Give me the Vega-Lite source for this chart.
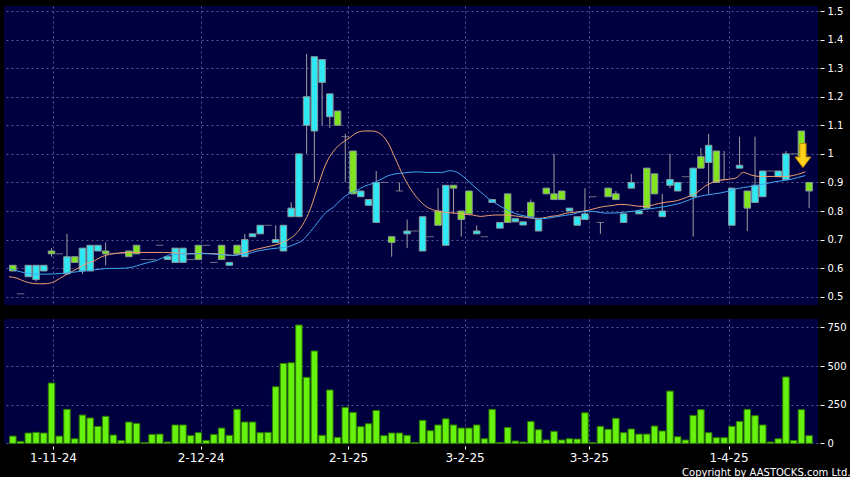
{
  "$schema": "https://vega.github.io/schema/vega-lite/v6.json",
  "background": "#000000",
  "padding": {"left": 4, "top": 6, "right": 0, "bottom": 0},
  "spacing": 14,
  "config": {
    "view": {"fill": "#000040", "stroke": null},
    "font": "DejaVu Sans",
    "axis": {"gridColor": "#6e6ea8", "gridDash": [2, 3], "gridWidth": 1, "gridOpacity": 0.8, "domain": false, "labelColor": "#ffffff", "tickColor": "#ffffff", "labelFont": "DejaVu Sans", "labelOverlap": false}
  },
  "data": {"values": [
    {"i":0,"o":0.61,"c":0.59,"h":0.61,"l":0.59,"t":"d","v":47,"a":0.570,"b":0.599},
    {"i":1,"o":0.51,"c":0.51,"h":0.51,"l":0.51,"t":"f","v":13,"a":0.565,"b":0.591},
    {"i":2,"o":0.57,"c":0.61,"h":0.61,"l":0.57,"t":"u","v":67,"a":0.554,"b":0.584},
    {"i":3,"o":0.56,"c":0.61,"h":0.61,"l":0.553,"t":"u","v":71,"a":0.547,"b":0.580},
    {"i":4,"o":0.59,"c":0.61,"h":0.61,"l":0.59,"t":"u","v":67,"a":0.545,"b":0.579},
    {"i":5,"o":0.66,"c":0.65,"h":0.67,"l":0.64,"t":"d","v":390,"a":0.546,"b":0.579},
    {"i":6,"o":0.65,"c":0.65,"h":0.65,"l":0.65,"t":"f","v":47,"a":0.555,"b":0.580},
    {"i":7,"o":0.58,"c":0.64,"h":0.72,"l":0.58,"t":"u","v":220,"a":0.571,"b":0.582},
    {"i":8,"o":0.64,"c":0.62,"h":0.64,"l":0.62,"t":"d","v":30,"a":0.586,"b":0.585},
    {"i":9,"o":0.59,"c":0.67,"h":0.67,"l":0.58,"t":"u","v":183,"a":0.601,"b":0.588},
    {"i":10,"o":0.59,"c":0.68,"h":0.68,"l":0.59,"t":"u","v":164,"a":0.615,"b":0.591},
    {"i":11,"o":0.66,"c":0.68,"h":0.68,"l":0.66,"t":"u","v":110,"a":0.625,"b":0.594},
    {"i":12,"o":0.66,"c":0.65,"h":0.69,"l":0.61,"t":"d","v":175,"a":0.640,"b":0.597},
    {"i":13,"o":0.652,"c":0.652,"h":0.652,"l":0.652,"t":"f","v":54,"a":0.648,"b":0.599},
    {"i":14,"o":0.652,"c":0.652,"h":0.652,"l":0.652,"t":"f","v":19,"a":0.652,"b":0.599},
    {"i":15,"o":0.66,"c":0.64,"h":0.66,"l":0.64,"t":"d","v":138,"a":0.655,"b":0.600},
    {"i":16,"o":0.68,"c":0.65,"h":0.68,"l":0.65,"t":"d","v":129,"a":0.655,"b":0.604},
    {"i":17,"o":0.63,"c":0.63,"h":0.63,"l":0.63,"t":"f","v":6,"a":0.655,"b":0.612},
    {"i":18,"o":0.63,"c":0.63,"h":0.63,"l":0.63,"t":"f","v":58,"a":0.655,"b":0.620},
    {"i":19,"o":0.68,"c":0.68,"h":0.68,"l":0.68,"t":"f","v":60,"a":0.655,"b":0.626},
    {"i":20,"o":0.63,"c":0.64,"h":0.64,"l":0.63,"t":"u","v":9,"a":0.655,"b":0.638},
    {"i":21,"o":0.62,"c":0.67,"h":0.67,"l":0.62,"t":"u","v":119,"a":0.654,"b":0.648},
    {"i":22,"o":0.62,"c":0.67,"h":0.67,"l":0.62,"t":"u","v":119,"a":0.652,"b":0.649},
    {"i":23,"o":0.63,"c":0.63,"h":0.63,"l":0.63,"t":"f","v":50,"a":0.650,"b":0.650},
    {"i":24,"o":0.68,"c":0.63,"h":0.68,"l":0.63,"t":"d","v":69,"a":0.651,"b":0.650},
    {"i":25,"o":0.68,"c":0.68,"h":0.68,"l":0.68,"t":"f","v":19,"a":0.652,"b":0.651},
    {"i":26,"o":0.62,"c":0.62,"h":0.62,"l":0.62,"t":"f","v":58,"a":0.651,"b":0.650},
    {"i":27,"o":0.68,"c":0.63,"h":0.68,"l":0.63,"t":"d","v":99,"a":0.650,"b":0.648},
    {"i":28,"o":0.61,"c":0.62,"h":0.62,"l":0.61,"t":"u","v":52,"a":0.647,"b":0.646},
    {"i":29,"o":0.68,"c":0.65,"h":0.68,"l":0.65,"t":"d","v":220,"a":0.645,"b":0.644},
    {"i":30,"o":0.64,"c":0.70,"h":0.72,"l":0.64,"t":"u","v":138,"a":0.650,"b":0.648},
    {"i":31,"o":0.71,"c":0.72,"h":0.72,"l":0.71,"t":"u","v":138,"a":0.658,"b":0.651},
    {"i":32,"o":0.72,"c":0.75,"h":0.75,"l":0.72,"t":"u","v":69,"a":0.666,"b":0.659},
    {"i":33,"o":0.75,"c":0.75,"h":0.75,"l":0.75,"t":"f","v":71,"a":0.672,"b":0.664},
    {"i":34,"o":0.69,"c":0.70,"h":0.75,"l":0.69,"t":"u","v":366,"a":0.678,"b":0.668},
    {"i":35,"o":0.66,"c":0.75,"h":0.75,"l":0.66,"t":"u","v":517,"a":0.686,"b":0.671},
    {"i":36,"o":0.78,"c":0.81,"h":0.83,"l":0.78,"t":"u","v":521,"a":0.698,"b":0.674},
    {"i":37,"o":0.78,"c":1.00,"h":1.00,"l":0.78,"t":"u","v":765,"a":0.717,"b":0.684},
    {"i":38,"o":1.10,"c":1.20,"h":1.35,"l":1.00,"t":"u","v":427,"a":0.752,"b":0.698},
    {"i":39,"o":1.08,"c":1.34,"h":1.34,"l":0.90,"t":"u","v":597,"a":0.808,"b":0.728},
    {"i":40,"o":1.25,"c":1.33,"h":1.33,"l":1.10,"t":"u","v":52,"a":0.890,"b":0.762},
    {"i":41,"o":1.13,"c":1.21,"h":1.21,"l":1.09,"t":"u","v":345,"a":0.965,"b":0.795},
    {"i":42,"o":1.15,"c":1.10,"h":1.15,"l":1.10,"t":"d","v":39,"a":1.010,"b":0.814},
    {"i":43,"o":1.06,"c":1.06,"h":1.07,"l":0.90,"t":"f","v":233,"a":1.037,"b":0.841},
    {"i":44,"o":1.01,"c":0.86,"h":1.01,"l":0.86,"t":"d","v":200,"a":1.055,"b":0.861},
    {"i":45,"o":0.85,"c":0.87,"h":0.87,"l":0.85,"t":"u","v":108,"a":1.074,"b":0.872},
    {"i":46,"o":0.82,"c":0.84,"h":0.84,"l":0.82,"t":"u","v":127,"a":1.080,"b":0.887},
    {"i":47,"o":0.76,"c":0.90,"h":0.94,"l":0.76,"t":"u","v":213,"a":1.080,"b":0.896},
    {"i":48,"o":0.90,"c":0.90,"h":0.90,"l":0.90,"t":"f","v":50,"a":1.071,"b":0.909},
    {"i":49,"o":0.71,"c":0.69,"h":0.71,"l":0.64,"t":"d","v":67,"a":1.040,"b":0.923},
    {"i":50,"o":0.87,"c":0.87,"h":0.90,"l":0.87,"t":"f","v":67,"a":0.982,"b":0.930},
    {"i":51,"o":0.72,"c":0.73,"h":0.77,"l":0.67,"t":"u","v":52,"a":0.923,"b":0.933},
    {"i":52,"o":0.73,"c":0.73,"h":0.73,"l":0.73,"t":"f","v":6,"a":0.875,"b":0.936},
    {"i":53,"o":0.66,"c":0.78,"h":0.78,"l":0.66,"t":"u","v":149,"a":0.840,"b":0.937},
    {"i":54,"o":0.71,"c":0.71,"h":0.71,"l":0.71,"t":"f","v":82,"a":0.815,"b":0.935},
    {"i":55,"o":0.80,"c":0.75,"h":0.88,"l":0.75,"t":"d","v":119,"a":0.803,"b":0.935},
    {"i":56,"o":0.68,"c":0.89,"h":0.89,"l":0.68,"t":"u","v":159,"a":0.797,"b":0.935},
    {"i":57,"o":0.89,"c":0.88,"h":0.89,"l":0.79,"t":"d","v":119,"a":0.794,"b":0.941},
    {"i":58,"o":0.80,"c":0.77,"h":0.80,"l":0.71,"t":"d","v":99,"a":0.792,"b":0.935},
    {"i":59,"o":0.87,"c":0.79,"h":0.87,"l":0.79,"t":"d","v":99,"a":0.788,"b":0.915},
    {"i":60,"o":0.72,"c":0.73,"h":0.75,"l":0.72,"t":"u","v":119,"a":0.786,"b":0.890},
    {"i":61,"o":0.71,"c":0.71,"h":0.71,"l":0.71,"t":"f","v":30,"a":0.781,"b":0.867},
    {"i":62,"o":0.83,"c":0.84,"h":0.84,"l":0.83,"t":"u","v":220,"a":0.784,"b":0.844},
    {"i":63,"o":0.74,"c":0.76,"h":0.76,"l":0.74,"t":"u","v":6,"a":0.786,"b":0.826},
    {"i":64,"o":0.86,"c":0.76,"h":0.86,"l":0.76,"t":"d","v":103,"a":0.786,"b":0.810},
    {"i":65,"o":0.762,"c":0.773,"h":0.773,"l":0.762,"t":"u","v":15,"a":0.784,"b":0.797},
    {"i":66,"o":0.751,"c":0.762,"h":0.762,"l":0.751,"t":"u","v":9,"a":0.781,"b":0.787},
    {"i":67,"o":0.83,"c":0.78,"h":0.84,"l":0.78,"t":"d","v":142,"a":0.777,"b":0.781},
    {"i":68,"o":0.73,"c":0.77,"h":0.77,"l":0.73,"t":"u","v":88,"a":0.774,"b":0.775},
    {"i":69,"o":0.88,"c":0.86,"h":0.88,"l":0.86,"t":"d","v":22,"a":0.775,"b":0.773},
    {"i":70,"o":0.86,"c":0.84,"h":1.00,"l":0.84,"t":"d","v":78,"a":0.781,"b":0.776},
    {"i":71,"o":0.87,"c":0.84,"h":0.87,"l":0.84,"t":"d","v":22,"a":0.784,"b":0.781},
    {"i":72,"o":0.80,"c":0.81,"h":0.81,"l":0.80,"t":"u","v":30,"a":0.792,"b":0.785},
    {"i":73,"o":0.75,"c":0.78,"h":0.78,"l":0.75,"t":"u","v":28,"a":0.795,"b":0.789},
    {"i":74,"o":0.77,"c":0.79,"h":0.88,"l":0.77,"t":"u","v":198,"a":0.798,"b":0.797},
    {"i":75,"o":0.85,"c":0.85,"h":0.85,"l":0.85,"t":"f","v":6,"a":0.803,"b":0.799},
    {"i":76,"o":0.76,"c":0.76,"h":0.76,"l":0.72,"t":"f","v":110,"a":0.810,"b":0.797},
    {"i":77,"o":0.88,"c":0.85,"h":0.88,"l":0.85,"t":"d","v":91,"a":0.816,"b":0.793},
    {"i":78,"o":0.86,"c":0.84,"h":0.87,"l":0.84,"t":"d","v":162,"a":0.819,"b":0.793},
    {"i":79,"o":0.76,"c":0.79,"h":0.79,"l":0.76,"t":"u","v":69,"a":0.823,"b":0.794},
    {"i":80,"o":0.88,"c":0.90,"h":0.93,"l":0.88,"t":"u","v":93,"a":0.822,"b":0.797},
    {"i":81,"o":0.79,"c":0.80,"h":0.80,"l":0.79,"t":"u","v":60,"a":0.818,"b":0.800},
    {"i":82,"o":0.95,"c":0.81,"h":0.95,"l":0.81,"t":"d","v":60,"a":0.816,"b":0.805},
    {"i":83,"o":0.93,"c":0.86,"h":0.93,"l":0.86,"t":"d","v":112,"a":0.819,"b":0.808},
    {"i":84,"o":0.78,"c":0.80,"h":0.86,"l":0.78,"t":"u","v":80,"a":0.826,"b":0.812},
    {"i":85,"o":0.89,"c":0.91,"h":1.00,"l":0.88,"t":"u","v":338,"a":0.831,"b":0.816},
    {"i":86,"o":0.87,"c":0.90,"h":0.90,"l":0.87,"t":"u","v":43,"a":0.834,"b":0.822},
    {"i":87,"o":0.92,"c":0.92,"h":0.92,"l":0.92,"t":"f","v":22,"a":0.841,"b":0.829},
    {"i":88,"o":0.85,"c":0.95,"h":0.95,"l":0.71,"t":"u","v":181,"a":0.852,"b":0.839},
    {"i":89,"o":0.99,"c":0.95,"h":1.02,"l":0.95,"t":"d","v":218,"a":0.865,"b":0.849},
    {"i":90,"o":0.97,"c":1.03,"h":1.07,"l":0.86,"t":"u","v":69,"a":0.886,"b":0.855},
    {"i":91,"o":1.01,"c":0.90,"h":1.01,"l":0.90,"t":"d","v":37,"a":0.900,"b":0.859},
    {"i":92,"o":0.91,"c":0.91,"h":1.01,"l":0.91,"t":"f","v":37,"a":0.907,"b":0.863},
    {"i":93,"o":0.75,"c":0.88,"h":0.88,"l":0.75,"t":"u","v":110,"a":0.911,"b":0.869},
    {"i":94,"o":0.95,"c":0.96,"h":1.06,"l":0.95,"t":"u","v":142,"a":0.915,"b":0.877},
    {"i":95,"o":0.87,"c":0.81,"h":0.87,"l":0.73,"t":"d","v":220,"a":0.935,"b":0.882},
    {"i":96,"o":0.83,"c":0.89,"h":1.06,"l":0.83,"t":"u","v":179,"a":0.926,"b":0.886},
    {"i":97,"o":0.85,"c":0.94,"h":0.94,"l":0.85,"t":"u","v":119,"a":0.921,"b":0.891},
    {"i":98,"o":0.94,"c":0.94,"h":0.94,"l":0.94,"t":"f","v":9,"a":0.921,"b":0.896},
    {"i":99,"o":0.92,"c":0.94,"h":0.94,"l":0.92,"t":"u","v":30,"a":0.921,"b":0.902},
    {"i":100,"o":0.91,"c":1.00,"h":1.01,"l":0.91,"t":"u","v":429,"a":0.920,"b":0.906},
    {"i":101,"o":1.00,"c":1.00,"h":1.00,"l":1.00,"t":"f","v":19,"a":0.922,"b":0.910},
    {"i":102,"o":1.08,"c":0.99,"h":1.08,"l":0.99,"t":"d","v":218,"a":0.928,"b":0.917},
    {"i":103,"o":0.90,"c":0.87,"h":0.90,"l":0.81,"t":"d","v":50,"a":0.937,"b":0.924}
  ]},
  "vconcat": [
    {
      "width": 814,
      "height": 299,
      "encoding": {
        "x": {"field": "i", "type": "quantitative", "scale": {"domain": [-0.5, 103.5], "nice": false, "zero": false},
              "axis": {"values": [5.19, 24.29, 43.36, 58.43, 74.49, 92.57], "labels": false, "ticks": false, "grid": true, "title": null}}
      },
      "layer": [
        {
          "mark": {"type": "rule", "color": "#a0a0a0", "strokeWidth": 1},
          "encoding": {
            "y": {"field": "l", "type": "quantitative", "scale": {"domain": [0.471, 1.5175], "nice": false, "zero": false},
                  "axis": {"orient": "right", "values": [0.5, 0.6, 0.7, 0.8, 0.9, 1, 1.1, 1.2, 1.3, 1.4, 1.5], "labelOverlap": false, "format": "~g", "title": null, "offset": 2, "tickSize": 4, "labelPadding": 3, "labelFontSize": 10, "grid": true}},
            "y2": {"field": "h"}
          }
        },
        {
          "transform": [{"filter": "datum.t != 'f'"}],
          "mark": {"type": "bar", "width": 6.5, "stroke": "#8a9a9c", "strokeWidth": 1},
          "encoding": {
            "y": {"field": "o", "type": "quantitative",
                  "axis": {"orient": "right", "values": [0.5, 0.6, 0.7, 0.8, 0.9, 1, 1.1, 1.2, 1.3, 1.4, 1.5], "labelOverlap": false, "format": "~g", "title": null, "offset": 2, "tickSize": 4, "labelPadding": 3, "labelFontSize": 10, "grid": true}},
            "y2": {"field": "c"},
            "color": {"field": "t", "type": "nominal", "scale": {"domain": ["u", "d"], "range": ["#2ee8f4", "#80e41e"]}, "legend": null}
          }
        },
        {
          "transform": [{"filter": "datum.t == 'f'"}],
          "mark": {"type": "tick", "orient": "horizontal", "color": "#a0a0a0", "size": 7.5, "thickness": 1},
          "encoding": {"y": {"field": "c", "type": "quantitative",
                  "axis": {"orient": "right", "values": [0.5, 0.6, 0.7, 0.8, 0.9, 1, 1.1, 1.2, 1.3, 1.4, 1.5], "labelOverlap": false, "format": "~g", "title": null, "offset": 2, "tickSize": 4, "labelPadding": 3, "labelFontSize": 10, "grid": true}}}
        },
        {
          "mark": {"type": "line", "color": "#f0a070", "strokeWidth": 1, "xOffset": -3.9, "interpolate": "monotone"},
          "encoding": {"y": {"field": "a", "type": "quantitative",
                  "axis": {"orient": "right", "values": [0.5, 0.6, 0.7, 0.8, 0.9, 1, 1.1, 1.2, 1.3, 1.4, 1.5], "labelOverlap": false, "format": "~g", "title": null, "offset": 2, "tickSize": 4, "labelPadding": 3, "labelFontSize": 10, "grid": true}}}
        },
        {
          "mark": {"type": "line", "color": "#40a8f0", "strokeWidth": 1, "xOffset": -3.9, "interpolate": "monotone"},
          "encoding": {"y": {"field": "b", "type": "quantitative",
                  "axis": {"orient": "right", "values": [0.5, 0.6, 0.7, 0.8, 0.9, 1, 1.1, 1.2, 1.3, 1.4, 1.5], "labelOverlap": false, "format": "~g", "title": null, "offset": 2, "tickSize": 4, "labelPadding": 3, "labelFontSize": 10, "grid": true}}}
        },
        {
          "data": {"values": [{"i": 102.2, "p": 0.994}]},
          "mark": {"type": "point", "filled": true, "size": 576, "shape": "M-0.26,-1L0.26,-1L0.26,0.12L0.66,0.12L0,1L-0.66,0.12L-0.26,0.12Z", "fill": "#ffd21a", "stroke": "#c08a00", "strokeWidth": 1, "opacity": 1},
          "encoding": {"x": {"field": "i", "type": "quantitative"}, "y": {"field": "p", "type": "quantitative",
                  "axis": {"orient": "right", "values": [0.5, 0.6, 0.7, 0.8, 0.9, 1, 1.1, 1.2, 1.3, 1.4, 1.5], "labelOverlap": false, "format": "~g", "title": null, "offset": 2, "tickSize": 4, "labelPadding": 3, "labelFontSize": 10, "grid": true}}}
        }
      ]
    },
    {
      "width": 814,
      "height": 125,
      "mark": {"type": "bar", "width": 6.5, "color": "#66f20e", "stroke": "#2e7a00", "strokeWidth": 1},
      "encoding": {
        "x": {"field": "i", "type": "quantitative", "scale": {"domain": [-0.5, 103.5], "nice": false, "zero": false},
              "axis": {"values": [5.19, 24.29, 43.36, 58.43, 74.49, 92.57], "grid": true, "offset": 2, "tickSize": 3, "labelPadding": 3, "labelFontSize": 12, "labelFlush": false,
                       "labelExpr": "datum.value < 10 ? '1-11-24' : datum.value < 30 ? '2-12-24' : datum.value < 50 ? '2-1-25' : datum.value < 65 ? '3-2-25' : datum.value < 80 ? '3-3-25' : '1-4-25'",
                       "title": "Copyright by AASTOCKS.com Ltd.", "titleColor": "#ffffff", "titleFontSize": 10, "titleFontWeight": "normal", "titleFont": "DejaVu Sans", "titleAlign": "right", "titleBaseline": "middle", "titleX": 846, "titleY": 26, "titleAnchor": null}},
        "y": {"field": "v", "type": "quantitative", "scale": {"domain": [-4, 804], "nice": false, "zero": false},
              "axis": {"orient": "right", "values": [0, 250, 500, 750], "labelOverlap": false, "title": null, "offset": 2, "tickSize": 4, "labelPadding": 3, "labelFontSize": 10, "grid": true}}
      }
    }
  ]
}
